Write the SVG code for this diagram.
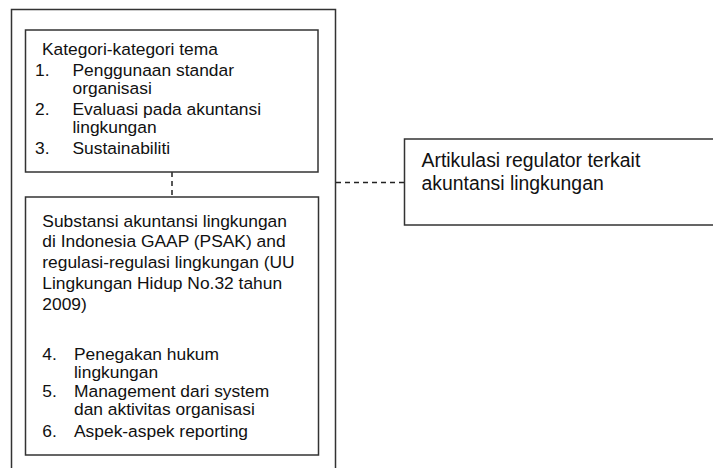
<svg xmlns="http://www.w3.org/2000/svg" width="713" height="468" viewBox="0 0 713 468">
<style>
.box{fill:#fff;stroke:#333;stroke-width:1.5}
.t{font-family:"Liberation Sans",Arial,sans-serif;font-size:17.4px;fill:#111}
.t2{font-family:"Liberation Sans",Arial,sans-serif;font-size:19.4px;fill:#111}
.dash{stroke:#222;stroke-width:1.5;stroke-dasharray:5,4;fill:none}
</style>
<rect width="713" height="468" fill="#fff"/>
<g id="outer">
<path d="M11.5,470 V9.5 H335.5 V470" fill="none" stroke="#333" stroke-width="1.5"/>
</g>
<g id="connectors">
<line class="dash" x1="172" y1="172" x2="172" y2="197"/>
<line class="dash" x1="336" y1="182.5" x2="404" y2="182.5"/>
</g>
<g id="kategori">
<rect class="box" x="25.5" y="30" width="292.5" height="142"/>
<text class="t" x="42" y="55">Kategori-kategori tema</text>
<text class="t" x="35" y="76">1.</text>
<text class="t" x="72.5" y="76">Penggunaan standar</text>
<text class="t" x="72.5" y="94">organisasi</text>
<text class="t" x="35" y="115">2.</text>
<text class="t" x="72.5" y="115">Evaluasi pada akuntansi</text>
<text class="t" x="72.5" y="133">lingkungan</text>
<text class="t" x="35" y="154">3.</text>
<text class="t" x="72.5" y="154">Sustainabiliti</text>
</g>
<g id="substansi">
<rect class="box" x="25.5" y="197" width="293" height="258"/>
<text class="t" x="42.3" y="226.5">Substansi akuntansi lingkungan</text>
<text class="t" x="42.3" y="247">di Indonesia GAAP (PSAK) and</text>
<text class="t" x="42.3" y="268">regulasi-regulasi lingkungan (UU</text>
<text class="t" x="42.3" y="289">Lingkungan Hidup No.32 tahun</text>
<text class="t" x="42.3" y="310">2009)</text>
<text class="t" x="42.3" y="360">4.</text>
<text class="t" x="74" y="360">Penegakan hukum</text>
<text class="t" x="74" y="378">lingkungan</text>
<text class="t" x="42.3" y="397">5.</text>
<text class="t" x="74" y="397">Management dari system</text>
<text class="t" x="74" y="415">dan aktivitas organisasi</text>
<text class="t" x="42.3" y="437">6.</text>
<text class="t" x="74" y="437">Aspek-aspek reporting</text>
</g>
<g id="artikulasi">
<rect class="box" x="404.5" y="139" width="320" height="86"/>
<text class="t2" x="421.5" y="167">Artikulasi regulator terkait</text>
<text class="t2" x="421.5" y="190">akuntansi lingkungan</text>
</g>
</svg>
